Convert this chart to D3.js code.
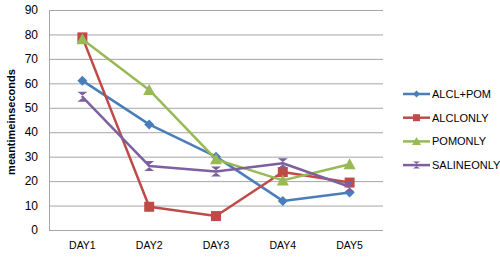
<!DOCTYPE html>
<html>
<head>
<meta charset="utf-8">
<script src="https://cdn.jsdelivr.net/npm/d3@7"></script>
<style>
  body { margin: 0; background: #fff; }
  text { font-family: "Liberation Sans", "DejaVu Sans", sans-serif; }
</style>
</head>
<body>
<div id="chart"></div>
<script>
// 数据
const days = ["DAY1", "DAY2", "DAY3", "DAY4", "DAY5"];
const seriesNames = ["ALCL+POM", "ALCLONLY", "POMONLY", "SALINEONLY"];
const alclPom = [61.1, 43.2, 30.0, 11.9, 15.3];
const alclOnly = [78.8, 9.5, 5.7, 23.7, 19.4];
const pomOnly = [78.0, 57.3, 28.9, 20.3, 26.9];
const salineOnly = [54.5, 26.2, 23.9, 27.3, 17.7];
const yTicks = [0, 10, 20, 30, 40, 50, 60, 70, 80, 90];

const colors = ["#4A7EBB", "#BE4B48", "#98B954", "#7D60A0"];
const shapes = ["diamond", "square", "triangle", "hourglass"];
const allSeries = [alclPom, alclOnly, pomOnly, salineOnly];

const width = 500, height = 259;
const plot = { left: 49, right: 383, top: 10, bottom: 230 };

const svg = d3.select("#chart").append("svg")
    .attr("width", width)
    .attr("height", height);

const x = d3.scaleBand().domain(days).range([plot.left, plot.right]);
const y = d3.scaleLinear().domain([0, 90]).range([plot.bottom, plot.top]);

// 网格线
svg.append("g")
    .selectAll("line")
    .data(yTicks)
    .join("line")
    .attr("x1", plot.left)
    .attr("x2", plot.right)
    .attr("y1", d => y(d) + 0.5)
    .attr("y2", d => y(d) + 0.5)
    .style("stroke", "#a6a6a6")
    .style("stroke-width", 1);

// 左轴线
svg.append("line")
    .attr("x1", plot.left + 0.5).attr("x2", plot.left + 0.5)
    .attr("y1", plot.top).attr("y2", plot.bottom + 0.5)
    .style("stroke", "#a6a6a6");

// y 轴刻度
svg.append("g")
    .selectAll("text")
    .data(yTicks)
    .join("text")
    .attr("x", 38)
    .attr("y", d => y(d))
    .attr("dy", "0.35em")
    .attr("text-anchor", "end")
    .style("font-size", "12px")
    .style("fill", "#000")
    .text(d => d);

// x 轴标签
svg.append("g")
    .selectAll("text")
    .data(days)
    .join("text")
    .attr("x", d => x(d) + x.bandwidth() / 2)
    .attr("y", 249)
    .attr("text-anchor", "middle")
    .style("font-size", "10.5px")
    .style("fill", "#000")
    .text(d => d);

// y 轴标题
svg.append("text")
    .attr("transform", "translate(15,122) rotate(-90)")
    .attr("text-anchor", "middle")
    .style("font-size", "11px")
    .style("font-weight", "bold")
    .text("meantimeinseconds");

function markerPath(shape, s) {
    if (shape === "diamond") return `M0,${-s}L${s},0L0,${s}L${-s},0Z`;
    if (shape === "square") return `M${-s},${-s}H${s}V${s}H${-s}Z`;
    if (shape === "triangle") return `M0,${-s - 1}L${s + 1},${s}H${-s - 1}Z`;
    // 沙漏形
    return `M${-s},${-s}H${s}L${-1.5},0L${s},${s}H${-s}L${1.5},0Z`;
}

const line = d3.line()
    .x((d, i) => x(days[i]) + x.bandwidth() / 2)
    .y(d => y(d));

allSeries.forEach((vals, k) => {
    const g = svg.append("g");
    g.append("path")
        .datum(vals)
        .attr("d", line)
        .style("fill", "none")
        .style("stroke", colors[k])
        .style("stroke-width", 2.5)
        .style("stroke-linejoin", "round");
    g.selectAll("path.m")
        .data(vals)
        .join("path")
        .attr("class", "m")
        .attr("transform", (d, i) => `translate(${x(days[i]) + x.bandwidth() / 2},${y(d)})`)
        .attr("d", markerPath(shapes[k], 5))
        .style("fill", colors[k]);
});

// 图例
const legend = svg.append("g");
seriesNames.forEach((name, k) => {
    const ly = 94 + k * 23.7;
    legend.append("line")
        .attr("x1", 403).attr("x2", 430)
        .attr("y1", ly).attr("y2", ly)
        .style("stroke", colors[k])
        .style("stroke-width", 2.5);
    legend.append("path")
        .attr("transform", `translate(416.5,${ly})`)
        .attr("d", markerPath(shapes[k], 3.5))
        .style("fill", colors[k]);
    legend.append("text")
        .attr("x", 432)
        .attr("y", ly)
        .attr("dy", "0.35em")
        .style("font-size", "11px")
        .text(name);
});
</script>
</body>
</html>
